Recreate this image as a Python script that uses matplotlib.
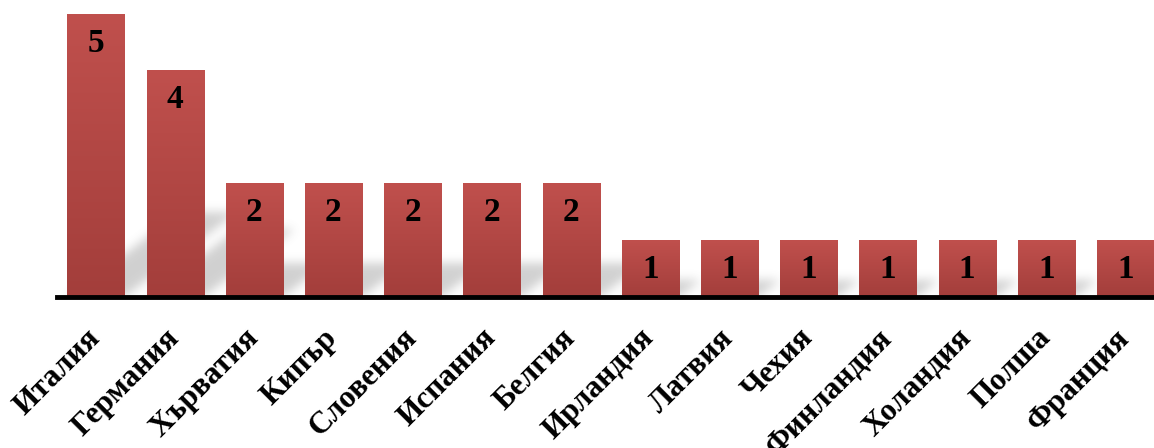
"""
Брой по държави - стълбовидна диаграма
"""
import numpy as np
import matplotlib
matplotlib.use('Agg')
import matplotlib.pyplot as plt
from matplotlib.colors import to_rgb
from matplotlib.transforms import ScaledTranslation

plt.rcParams['font.family'] = ['Liberation Serif', 'DejaVu Serif']

# данни
countries = ['Италия', 'Германия', 'Хърватия', 'Кипър', 'Словения', 'Испания',
             'Белгия', 'Ирландия', 'Латвия', 'Чехия', 'Финландия', 'Холандия',
             'Полша', 'Франция']
counts = [5, 4, 2, 2, 2, 2, 2, 1, 1, 1, 1, 1, 1, 1]

top_color = to_rgb('#C0504D')
bottom_color = to_rgb('#A33E3B')

W, H = 1154, 448
fig = plt.figure(figsize=(W / 100, H / 100), dpi=100)
ax = fig.add_axes([57 / W, 151 / H, (W - 57) / W, 297 / H])
xlim = (-0.49, 13.36)
ylim = (0, 5.25)
ax.set_xlim(*xlim)
ax.set_ylim(*ylim)

x = np.arange(len(countries))
bars = ax.bar(x, counts, width=0.72, color='none', zorder=3)

# градиент в стълбовете
grad = np.linspace(0, 1, 256)[:, None]
img = np.zeros((256, 1, 3))
for c in range(3):
    img[:, 0, c] = bottom_color[c] + (top_color[c] - bottom_color[c]) * grad[:, 0]
for b in bars:
    x0, y0 = b.get_x(), b.get_y()
    ax.imshow(img, extent=(x0, x0 + b.get_width(), y0, y0 + b.get_height()),
              origin='lower', aspect='auto', zorder=3, interpolation='bilinear')

# размазани сенки зад стълбовете
nx, ny = W - 57, 297
px_x = nx / (xlim[1] - xlim[0])
px_y = ny / (ylim[1] - ylim[0])
gx = np.arange(nx)[None, :] + 0.5
gy = np.arange(ny)[:, None] + 0.5
mask = np.zeros((ny, nx))
slope = 0.75
for b in bars:
    bx0 = (b.get_x() - xlim[0]) * px_x
    bx1 = bx0 + b.get_width() * px_x
    sh = 0.3 * b.get_height() * px_y
    shift = gy / slope
    inside = (gx >= bx0 + shift) & (gx <= bx1 + shift) & (gy <= sh)
    mask = np.maximum(mask, inside.astype(float))

sigma = 5
k = np.arange(-3 * sigma, 3 * sigma + 1)
kern = np.exp(-k ** 2 / (2 * sigma ** 2))
kern /= kern.sum()
mask = np.apply_along_axis(lambda r: np.convolve(r, kern, mode='same'), 1, mask)
mask = np.apply_along_axis(lambda r: np.convolve(r, kern, mode='same'), 0, mask)
shadow = np.zeros((ny, nx, 4))
shadow[..., :3] = 0.35
shadow[..., 3] = mask * 0.28
ax.imshow(shadow, extent=(xlim[0], xlim[1], ylim[0], ylim[1]), origin='lower',
          aspect='auto', zorder=1, interpolation='bilinear')

# стойности
for b, v in zip(bars, counts):
    ax.annotate(str(v), (b.get_x() + b.get_width() / 2, b.get_height()),
                xytext=(0, -29), textcoords='offset pixels',
                ha='center', va='center', fontsize=24, fontweight='bold',
                zorder=5)

for s in ['top', 'right', 'left']:
    ax.spines[s].set_visible(False)
ax.spines['bottom'].set_linewidth(3.5)
ax.spines['bottom'].set_color('black')
ax.spines['bottom'].set_zorder(4)
ax.set_yticks([])
ax.set_xticks(x)
ax.set_xticklabels(countries, rotation=45, ha='right', fontsize=22.5,
                   fontweight='bold')
ax.tick_params(axis='x', length=0, pad=19)
offset = ScaledTranslation(10 / 100, 0, fig.dpi_scale_trans)
for lab in ax.get_xticklabels():
    lab.set_transform(lab.get_transform() + offset)

fig.savefig('out.png', dpi=100)
plt.close(fig)
